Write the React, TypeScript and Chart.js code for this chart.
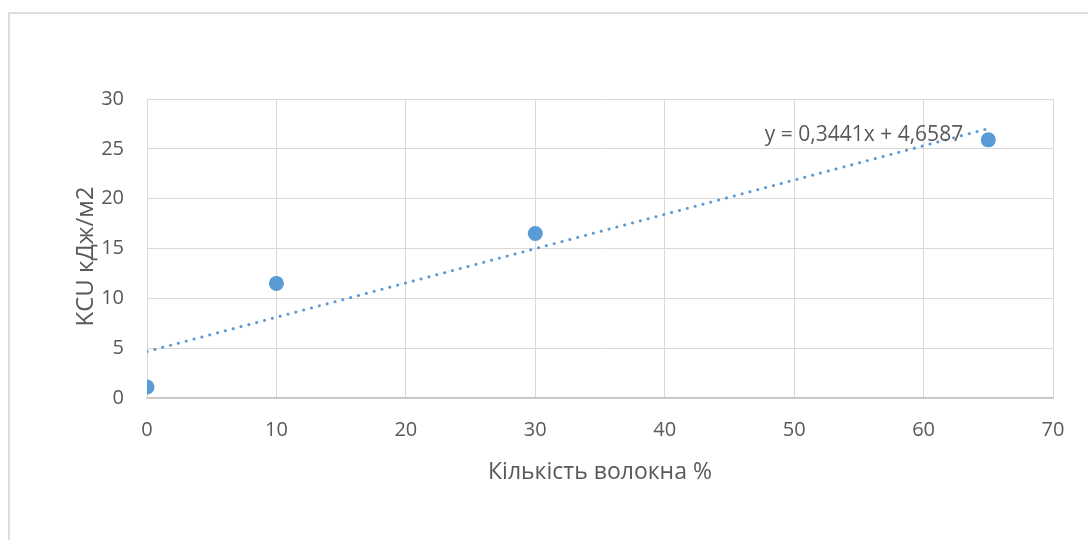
import React, { useEffect, useRef } from "react";
import { Chart, registerables } from "chart.js";

Chart.register(...registerables);

// Measured impact strength vs. fibre content
const fibreContent = [0, 10, 30, 65];
const kcuValues = [1.1, 11.5, 16.5, 25.9];

// Linear trendline coefficients
const trendSlope = 0.3441;
const trendIntercept = 4.6587;
const trendRange = [0, 65];

const xTitle = "Кількість волокна %";
const yTitle = "KCU кДж/м2";

const FONT = "'Open Sans', 'Noto Sans', sans-serif";
const TEXT = "#595959";
const BLUE = "#5B9BD5";
const GRID = "#d9d9d9";

const fmt = (v: number) => String(v).replace(".", ",");
const equation = `y = ${fmt(trendSlope)}x + ${fmt(trendIntercept)}`;

// Equation label near the end of the trendline, plus the rotated y-axis title
const extraText = {
  id: "extraText",
  afterDatasetsDraw(chart: any) {
    const { ctx, chartArea } = chart;
    ctx.save();
    ctx.fillStyle = TEXT;
    ctx.textAlign = "center";
    ctx.textBaseline = "middle";
    ctx.font = `21px ${FONT}`;
    ctx.fillText(equation, chartArea.right - 189, chartArea.top + 36);

    ctx.translate(86, (chartArea.top + chartArea.bottom) / 2 + 8);
    ctx.rotate(-Math.PI / 2);
    ctx.font = `24px ${FONT}`;
    ctx.fillText(yTitle, 0, 0);
    ctx.restore();
  },
};

export default function App() {
  const ref = useRef<HTMLCanvasElement | null>(null);

  useEffect(() => {
    if (!ref.current) return;
    const points = fibreContent.map((x, i) => ({ x, y: kcuValues[i] }));
    const trend = trendRange.map((x) => ({ x, y: trendSlope * x + trendIntercept }));

    const chart = new Chart(ref.current, {
      type: "scatter",
      data: {
        datasets: [
          {
            type: "scatter",
            data: points,
            backgroundColor: BLUE,
            borderColor: BLUE,
            pointRadius: 7.5,
            pointHoverRadius: 7.5,
            borderWidth: 0,
            order: 0,
          },
          {
            type: "line",
            data: trend,
            borderColor: BLUE,
            borderWidth: 3,
            borderDash: [0.1, 8],
            borderCapStyle: "round",
            pointRadius: 0,
            fill: false,
            showLine: true,
            order: 1,
          } as any,
        ],
      },
      options: {
        animation: false,
        responsive: false,
        maintainAspectRatio: false,
        layout: { padding: { left: 0, top: 99, right: 35, bottom: 0 } },
        plugins: {
          legend: { display: false },
          tooltip: { enabled: false },
        },
        scales: {
          x: {
            type: "linear",
            min: 0,
            max: 70,
            ticks: {
              stepSize: 10,
              padding: 20,
              color: TEXT,
              font: { family: FONT, size: 20 },
            },
            grid: { color: GRID, lineWidth: 1, drawTicks: false },
            border: { color: "#c4c4c4", width: 1.5 },
            title: {
              display: true,
              text: xTitle,
              color: TEXT,
              font: { family: FONT, size: 23 },
              padding: { top: 0, bottom: 54 },
            },
            afterFit(scale: any) {
              scale.height = 142;
            },
          },
          y: {
            type: "linear",
            min: 0,
            max: 30,
            ticks: {
              stepSize: 5,
              padding: 23,
              color: TEXT,
              font: { family: FONT, size: 20 },
            },
            grid: { color: GRID, lineWidth: 1, drawTicks: false },
            border: { color: GRID, width: 1 },
            afterFit(scale: any) {
              scale.width = 147;
            },
          },
        },
      },
      plugins: [extraText],
    });
    return () => chart.destroy();
  }, []);

  return (
    <div style={{ position: "absolute", left: 0, top: 0, width: 1088, height: 540, background: "#fff" }}>
      <div
        style={{
          position: "absolute",
          left: 8,
          top: 12,
          width: 1080,
          height: 528,
          borderLeft: "2px solid #dedede",
          borderTop: "2px solid #dedede",
          boxSizing: "border-box",
        }}
      />
      <canvas ref={ref} width={1088} height={540} style={{ position: "absolute", left: 0, top: 0 }} />
    </div>
  );
}
